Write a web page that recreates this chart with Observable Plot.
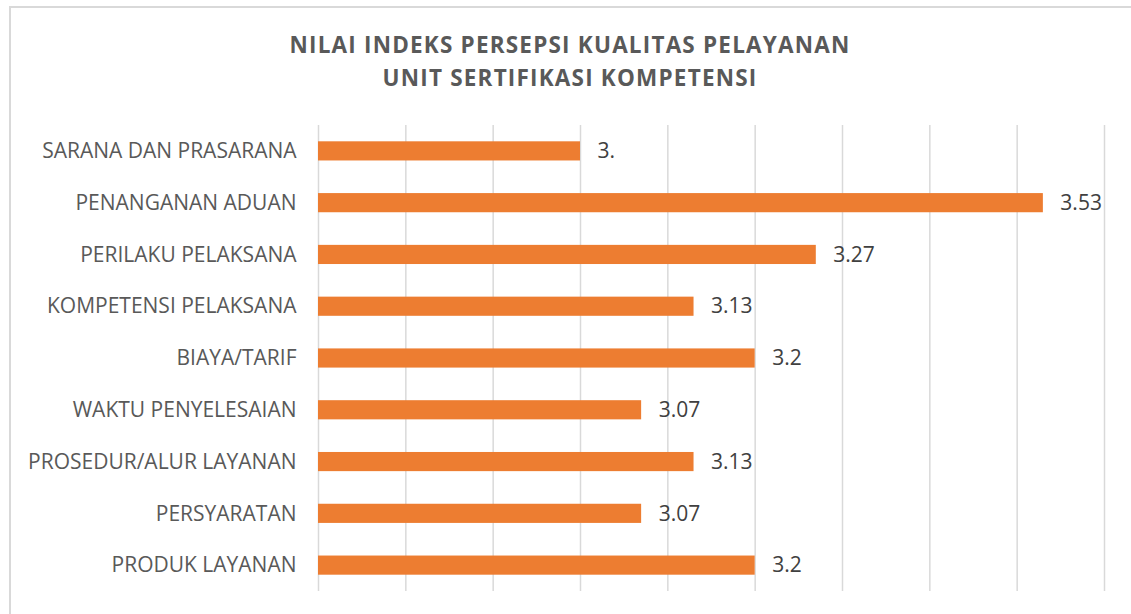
<!DOCTYPE html>
<html>
<head>
<meta charset="utf-8">
<script src="https://cdn.jsdelivr.net/npm/d3@7"></script>
<script src="https://cdn.jsdelivr.net/npm/@observablehq/plot@0.6"></script>
<style>
  html, body { margin: 0; padding: 0; background: #fff; width: 1131px; height: 614px; overflow: hidden; }
  #frame { position: absolute; left: 9px; top: 6px; width: 1200px; height: 700px; border-left: 2px solid #d9d9d9; border-top: 2px solid #d9d9d9; }
  #title { position: absolute; left: 0; top: 28px; width: 1140px; text-align: center; font-family: "Open Sans", sans-serif; font-weight: bold; font-size: 22.5px; line-height: 33px; color: #595959; letter-spacing: 1.2px; }
  #chart { position: absolute; left: 0; top: 100px; }
</style>
</head>
<body>
<div id="frame"></div>
<div id="title">NILAI INDEKS PERSEPSI KUALITAS PELAYANAN<br>UNIT SERTIFIKASI KOMPETENSI</div>
<div id="chart"></div>
<script>
const categories = [
  "SARANA DAN PRASARANA",
  "PENANGANAN ADUAN",
  "PERILAKU PELAKSANA",
  "KOMPETENSI PELAKSANA",
  "BIAYA/TARIF",
  "WAKTU PENYELESAIAN",
  "PROSEDUR/ALUR LAYANAN",
  "PERSYARATAN",
  "PRODUK LAYANAN"
];
const values = [3.0, 3.53, 3.27, 3.13, 3.2, 3.07, 3.13, 3.07, 3.2];
const valueLabels = ["3.", "3.53", "3.27", "3.13", "3.2", "3.07", "3.13", "3.07", "3.2"];
const xDomain = [2.7, 3.6];
const xTicks = [2.7, 2.8, 2.9, 3.0, 3.1, 3.2, 3.3, 3.4, 3.5, 3.6];

const data = categories.map((c, i) => ({cat: c, value: values[i], label: valueLabels[i]}));

const chart = Plot.plot({
  width: 1131,
  height: 514,
  marginLeft: 318,
  marginRight: 27,
  marginTop: 25,
  marginBottom: 23,
  style: {fontFamily: "'Open Sans', sans-serif", background: "transparent"},
  x: {domain: xDomain, axis: null},
  y: {domain: categories, paddingInner: 0.63, paddingOuter: 0.315, round: false, label: null},
  marks: [
    Plot.ruleX(xTicks, {stroke: "#d9d9d9", strokeWidth: 1.5}),
    Plot.barX(data, {y: "cat", x1: () => xDomain[0], x2: "value", fill: "#ED7D31"}),
    Plot.text(data, {y: "cat", x: "value", text: "label", dx: 17, textAnchor: "start", fontSize: 21, fill: "#404040"}),
    Plot.axisY({tickSize: 0, tickPadding: 22, fontSize: 21, color: "#595959", label: null})
  ]
});
document.getElementById("chart").appendChild(chart);
</script>
</body>
</html>
